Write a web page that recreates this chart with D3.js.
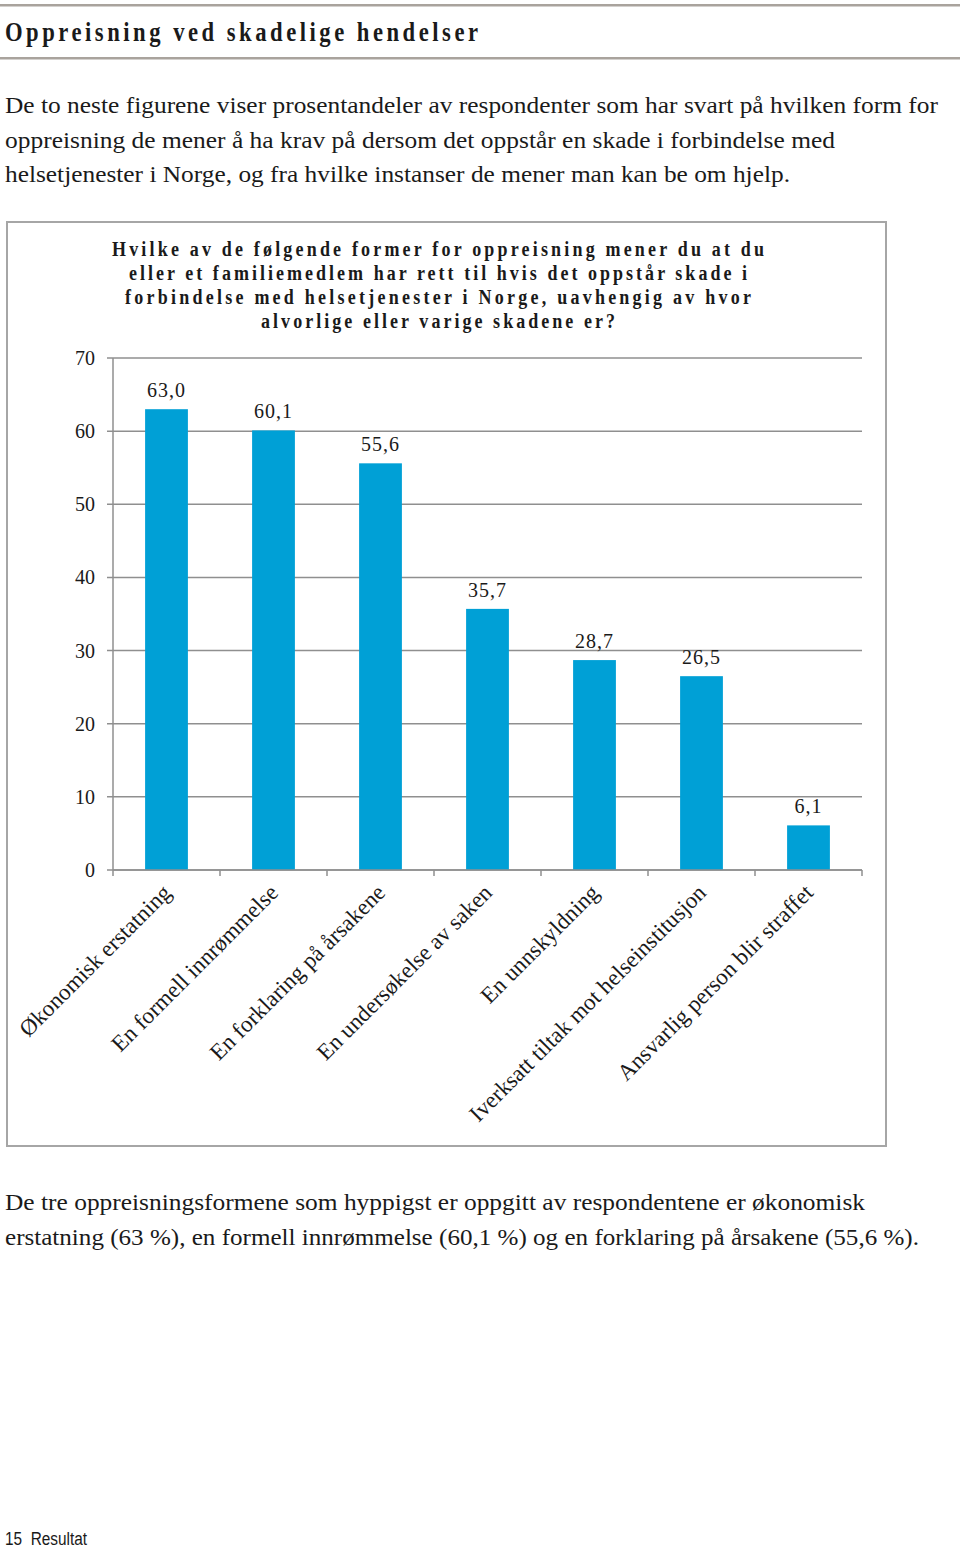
<!DOCTYPE html>
<html><head><meta charset="utf-8">
<script src="https://cdn.jsdelivr.net/npm/d3@7"></script>
<style>body{margin:0;background:#fff}svg{display:block}</style>
</head><body>
<script>
const categories = ["Økonomisk erstatning","En formell innrømmelse","En forklaring på årsakene","En undersøkelse av saken","En unnskyldning","Iverksatt tiltak mot helseinstitusjon","Ansvarlig person blir straffet"];
const values = [63.0, 60.1, 55.6, 35.7, 28.7, 26.5, 6.1];
const valueLabels = ["63,0","60,1","55,6","35,7","28,7","26,5","6,1"];
const yTicks = [0,10,20,30,40,50,60,70];
const heading = "Oppreisning ved skadelige hendelser";
const introLines = ["De to neste figurene viser prosentandeler av respondenter som har svart på hvilken form for","oppreisning de mener å ha krav på dersom det oppstår en skade i forbindelse med","helsetjenester i Norge, og fra hvilke instanser de mener man kan be om hjelp."];
const chartTitle = ["Hvilke av de følgende former for oppreisning mener du at du","eller et familiemedlem har rett til hvis det oppstår skade i","forbindelse med helsetjenester i Norge, uavhengig av hvor","alvorlige eller varige skadene er?"];
const outroLines = ["De tre oppreisningsformene som hyppigst er oppgitt av respondentene er økonomisk","erstatning (63 %), en formell innrømmelse (60,1 %) og en forklaring på årsakene (55,6 %)."];
const footer = "15  Resultat";

const W=960,H=1548;
const svg=d3.select("body").append("svg").attr("width",W).attr("height",H);
const serif="'Liberation Serif','Times New Roman',serif";
const ink="#1a1a1a";

function ctext(g, t, x, y, size, sx, w, opts={}){
  return g.append("text")
    .attr("transform",`translate(${x},${y}) scale(${sx},1)`)
    .attr("font-family",opts.family||serif).attr("font-size",size).attr("fill",ink)
    .attr("font-weight",opts.bold?"bold":"normal")
    .attr("text-anchor",opts.anchor||"start")
    .style("white-space","pre")
    .attr("textLength",w/sx).attr("lengthAdjust",opts.adjust||"spacing").text(t);
}

svg.append("rect").attr("x",0).attr("y",4).attr("width",960).attr("height",2.5).attr("fill","#a9a39d");
svg.append("rect").attr("x",0).attr("y",57).attr("width",960).attr("height",2.5).attr("fill","#a9a39d");
ctext(svg, heading, 5, 41, 27, 0.84, 473, {bold:true});

const introW=[933,830,785];
introLines.forEach((t,i)=>ctext(svg,t,5,113+i*34.5,24,0.82,introW[i],{adjust:"spacingAndGlyphs"}));
const outroW=[860,914];
outroLines.forEach((t,i)=>ctext(svg,t,5,1210+i*34.5,24,0.82,outroW[i],{adjust:"spacingAndGlyphs"}));

ctext(svg, footer, 5, 1545, 19, 0.85, 82, {family:"'Liberation Sans',Arial,sans-serif",adjust:"spacingAndGlyphs"});

svg.append("rect").attr("x",7).attr("y",222).attr("width",879).attr("height",924)
  .attr("fill","none").attr("stroke","#a6a6a6").attr("stroke-width",2);

const titleW=[652,618,626,354];
chartTitle.forEach((t,i)=>ctext(svg,t,438,256+i*24,20,0.9,titleW[i],{bold:true,anchor:"middle"}));

const x=d3.scaleBand().domain(categories).range([113,862]).paddingInner(0.6).paddingOuter(0.3);
const xb=d3.scaleBand().domain(categories).range([113,862]);
const y=d3.scaleLinear().domain([0,70]).range([870,358]);

const grid="#8f8f8f";
const ya=svg.append("g");
yTicks.forEach(v=>{
  ya.append("line").attr("x1",107).attr("x2",862).attr("y1",y(v)).attr("y2",y(v)).attr("stroke",grid).attr("stroke-width",1.5);
  ya.append("text").attr("x",95).attr("y",y(v)+7).attr("text-anchor","end").attr("font-family",serif)
    .attr("font-size",20).attr("fill",ink).text(v);
});
svg.append("line").attr("x1",113).attr("x2",113).attr("y1",y(70)).attr("y2",y(0)).attr("stroke",grid).attr("stroke-width",1.5);

svg.selectAll("rect.bar").data(values).join("rect").attr("class","bar")
  .attr("x",(d,i)=>x(categories[i])).attr("width",x.bandwidth())
  .attr("y",d=>y(d)).attr("height",d=>y(0)-y(d)).attr("fill","#00a0d6");

svg.append("line").attr("x1",113).attr("x2",862).attr("y1",y(0)).attr("y2",y(0)).attr("stroke",grid).attr("stroke-width",1.5);
categories.concat([null]).forEach(c=>{
  const tx = c===null ? 862 : xb(c);
  svg.append("line").attr("x1",tx).attr("x2",tx).attr("y1",y(0)).attr("y2",y(0)+6).attr("stroke",grid).attr("stroke-width",1.5);
});

svg.selectAll("text.val").data(values).join("text").attr("class","val")
  .attr("x",(d,i)=>x(categories[i])+x.bandwidth()/2).attr("y",d=>y(d)-12)
  .attr("text-anchor","middle").attr("font-family",serif).attr("font-size",20).attr("fill",ink)
  .attr("letter-spacing",1).text((d,i)=>valueLabels[i]);

svg.selectAll("text.cat").data(categories).join("text").attr("class","cat")
  .attr("transform",d=>`translate(${xb(d)+xb.bandwidth()/2+6},${894}) rotate(-45)`)
  .attr("text-anchor","end").attr("font-family",serif).attr("font-size",23).attr("fill",ink).text(d=>d);
</script>
</body></html>
